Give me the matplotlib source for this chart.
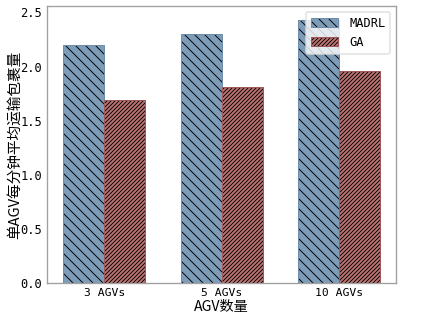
import numpy as np
import matplotlib.pyplot as plt

plt.rcParams['font.family'] = ['DejaVu Sans Mono', 'Noto Sans CJK SC']
plt.rcParams['axes.unicode_minus'] = False
plt.rcParams['hatch.linewidth'] = 0.55

categories = ['3 AGVs', '5 AGVs', '10 AGVs']
madrl = [2.20, 2.30, 2.43]
ga = [1.69, 1.81, 1.96]

x = np.arange(len(categories))
width = 0.35

fig, ax = plt.subplots(figsize=(3.6, 316 / 120), dpi=120)

ax.bar(x - width / 2, madrl, width, color='#7c9cb8', edgecolor='#6d8daa',
       hatch='\\' * 4, label='MADRL', linewidth=0.6)
ax.bar(x + width / 2, ga, width, color='#bf7474', edgecolor='#9e5a5a',
       hatch='/' * 10, label='GA', linewidth=0.6)

# black hatch lines
for p in ax.patches:
    p._hatch_color = (0, 0, 0, 1)

ax.set_xticks(x)
ax.set_xticklabels(categories, fontsize=6.8)
ax.set_xlim(-0.49, 2.49)
ax.set_ylim(0, 2.56)
ax.set_yticks([0.0, 0.5, 1.0, 1.5, 2.0, 2.5])
ax.tick_params(axis='y', labelsize=7.2, length=0, pad=3)
ax.tick_params(axis='x', length=0, pad=3)
ax.set_xlabel('AGV数量', fontsize=8.5, family=['Noto Sans CJK SC'])
ax.set_ylabel('单AGV每分钟平均运输包裹量', fontsize=8.8, family=['Noto Sans CJK SC'])
ax.yaxis.set_label_coords(-0.073, 0.5)
ax.xaxis.set_label_coords(0.5, -0.061)

for s in ax.spines.values():
    s.set_color('#a0a0a0')

ax.legend(loc='upper right', fontsize=7.2, framealpha=0.8, handlelength=2.3,
          handleheight=0.75, handletextpad=0.9, labelspacing=0.5,
          borderaxespad=0.5, edgecolor='#dddddd')

plt.subplots_adjust(left=0.109, right=0.917, top=0.981, bottom=0.104)
plt.savefig('out.png')
